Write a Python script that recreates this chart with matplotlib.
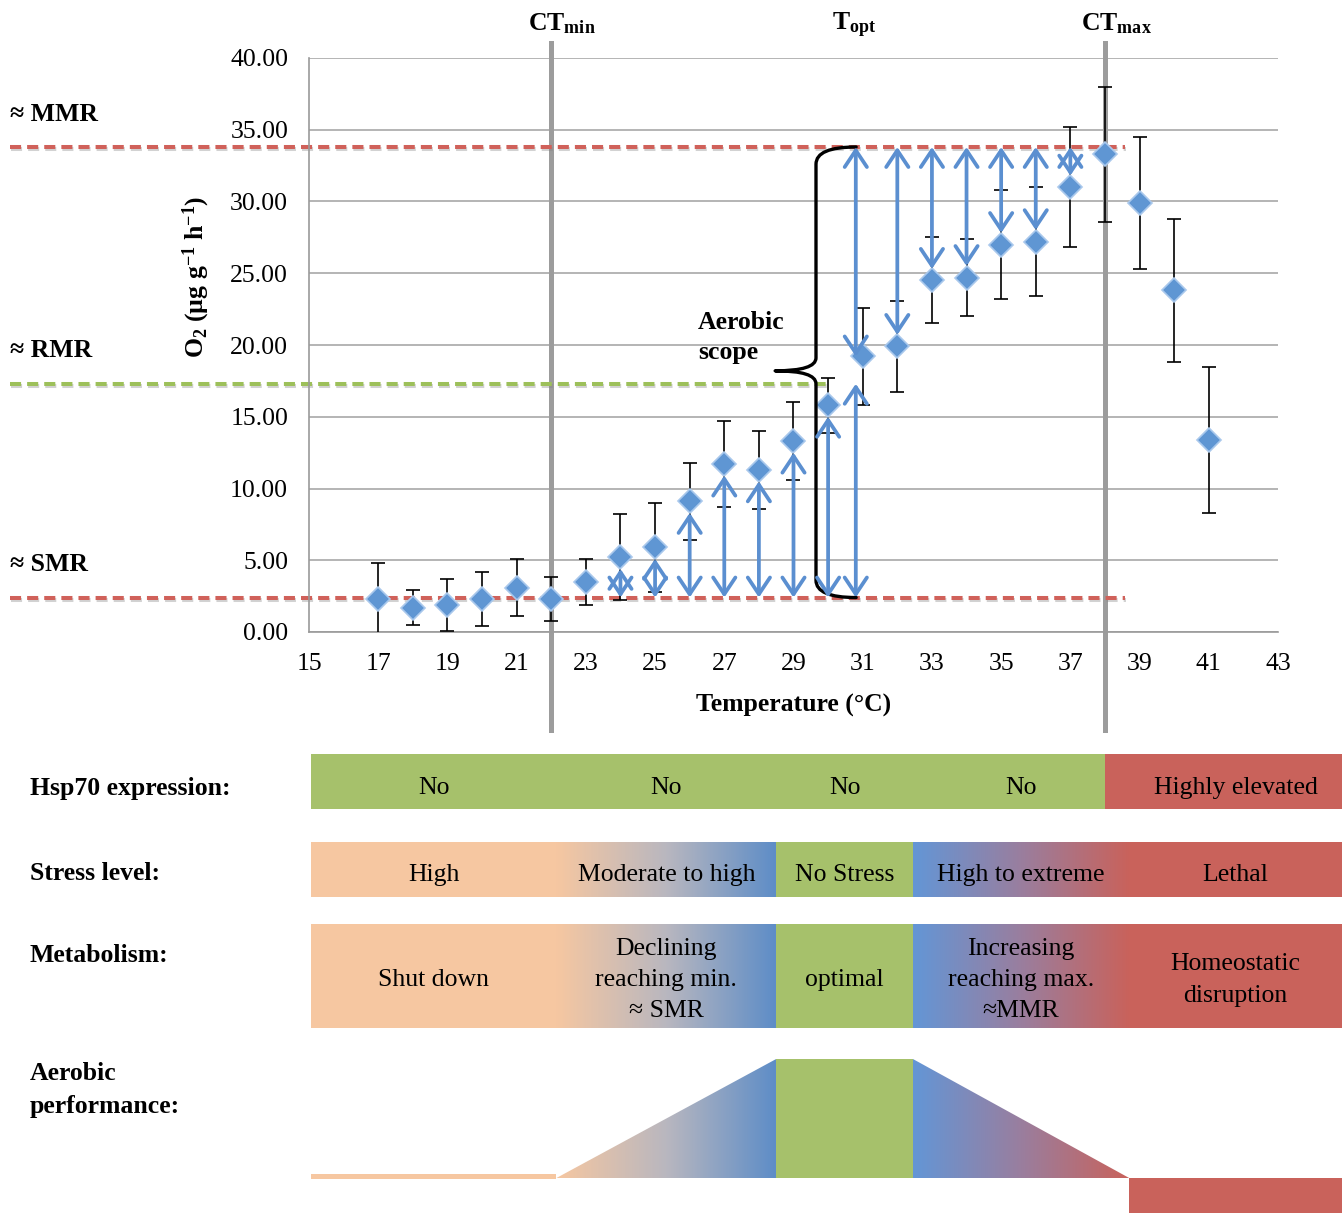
import numpy as np
import matplotlib.pyplot as plt
import matplotlib.patheffects as pe
import matplotlib.transforms as mtransforms
from matplotlib.patches import Rectangle, Polygon, PathPatch
from matplotlib.path import Path
from matplotlib.colors import LinearSegmentedColormap

plt.rcParams['font.family'] = ['Liberation Serif', 'DejaVu Serif']
plt.rcParams['mathtext.fontset'] = 'custom'
plt.rcParams['mathtext.rm'] = 'Liberation Serif'
plt.rcParams['mathtext.bf'] = 'Liberation Serif:bold'
plt.rcParams['mathtext.it'] = 'Liberation Serif:italic'

# mean O2 consumption (ug g-1 h-1) and error per test temperature
temp = np.arange(17, 42)
o2 = [2.3, 1.7, 1.9, 2.3, 3.1, 2.3, 3.5, 5.2, 5.9, 9.1, 11.7, 11.3, 13.3,
      15.8, 19.2, 19.9, 24.5, 24.7, 27.0, 27.2, 31.0, 33.3, 29.9, 23.8, 13.4]
o2_err = [2.5, 1.2, 1.8, 1.9, 2.0, 1.5, 1.6, 3.0, 3.1, 2.7, 3.0, 2.7, 2.7,
          1.9, 3.4, 3.2, 3.0, 2.7, 3.8, 3.8, 4.2, 4.7, 4.6, 5.0, 5.1]

# metabolic levels and critical temperatures
SMR, RMR, MMR = 2.4, 17.3, 33.8
CT_MIN, T_OPT, CT_MAX = 22, 30.8, 38
up_t = [24, 25, 26, 27, 28, 29, 30]      # scope measured up from SMR
down_t = [32, 33, 34, 35, 36, 37]        # scope measured down from MMR

# zones for the lower panel (degC)
zones = [15.05, 22.15, 28.5, 32.45, 38.7, 44.85]
hsp_edges = [15.05, CT_MAX, 44.85]
hsp_text = ['No', 'No', 'No', 'No', 'Highly elevated']
stress_text = ['High', 'Moderate to high', 'No Stress', 'High to extreme', 'Lethal']
metab_text = ['Shut down', 'Declining\nreaching min.\n\u2248 SMR', 'optimal',
              'Increasing\nreaching max.\n\u2248MMR', 'Homeostatic\ndisruption']

PEACH = '#F6C7A1'
GREEN = '#A6C16B'
RED = '#C9625B'
LEFT_GRAD = ['#F6C7A1', '#B9B7BF', '#5E8DC7']
RIGHT_GRAD = ['#6396D6', '#9A7E9E', '#C9625B']
ARROW = '#5B8FD0'
FS = 18.5

W, H = 1344, 1213
fig = plt.figure(figsize=(W / 100, H / 100), dpi=100)
bg = fig.add_axes([0, 0, 1, 1], zorder=-1)
bg.axis('off')
ax = fig.add_axes([309 / W, 1 - 632 / H, 969 / W, 574 / H])
ax.patch.set_alpha(0)

# ---- top chart ----
ax.set_xlim(15, 43)
ax.set_ylim(0, 40)
ax.set_xticks(np.arange(15, 44, 2))
ax.set_yticks(np.arange(0, 41, 5))
ax.set_yticklabels(['%.2f' % v for v in np.arange(0, 41, 5)])
ax.tick_params(length=0, labelsize=FS, pad=15)
ax.yaxis.grid(True, color='#a8a8a8', lw=1.2)
ax.set_axisbelow(True)
for s in ['top', 'right']:
    ax.spines[s].set_visible(False)
for s in ['left', 'bottom']:
    ax.spines[s].set_color('#9a9a9a')
    ax.spines[s].set_linewidth(1.2)

for t in [CT_MIN, CT_MAX]:
    ax.axvline(t, ymin=-0.171, ymax=1.027, color='#9c9c9c', lw=3.6,
               clip_on=False, zorder=1.5)
for t, lab in [(CT_MIN, r'$\mathbf{CT_{min}}$'), (T_OPT, r'$\mathbf{T_{opt}}$'),
               (CT_MAX, r'$\mathbf{CT_{max}}$')]:
    ax.text(t - 0.68, 41.9, lab, fontsize=FS, ha='left', va='baseline', clip_on=False)

shadow = [pe.SimpleLineShadow(offset=(0.6, -1.6), shadow_color='#808080', alpha=0.35),
          pe.Normal()]
for lvl, x1, col in [(MMR, 38.58, '#D0615A'), (RMR, 29.97, '#9DC05A'), (SMR, 38.58, '#D0615A')]:
    ax.plot([6.36, x1], [lvl, lvl], color=col, lw=2.9, ls=(0, (2.75, 1.5)),
            clip_on=False, zorder=2, path_effects=shadow)
for lvl, lab in [(MMR, '\u2248 MMR'), (RMR, '\u2248 RMR'), (SMR, '\u2248 SMR')]:
    ax.annotate(lab, xy=(6.36, lvl), xytext=(0, 19), textcoords='offset points',
                fontsize=FS, fontweight='bold', va='baseline', ha='left',
                annotation_clip=False)

ax.errorbar(temp, o2, yerr=o2_err, fmt='none', ecolor='black', elinewidth=1.2,
            capsize=5, capthick=1.2, zorder=3)
ax.plot(temp, o2, ls='none', marker='D', ms=12, mfc='#5F96D3', mec='#A9C8EC',
        mew=1.2, zorder=4)

ap = dict(arrowstyle='<->,head_length=0.6,head_width=0.4', color=ARROW, lw=2.7,
          shrinkA=0, shrinkB=0, mutation_scale=20)
o2_at = dict(zip(temp, o2))
for t in up_t:
    ax.annotate('', xy=(t, o2_at[t] - 0.8), xytext=(t, SMR), arrowprops=ap, zorder=5)
for t in down_t:
    ax.annotate('', xy=(t, o2_at[t] + 0.8), xytext=(t, MMR), arrowprops=ap, zorder=5)
ax.annotate('', xy=(T_OPT, RMR), xytext=(T_OPT, SMR), arrowprops=ap, zorder=5)
ax.annotate('', xy=(T_OPT, o2_at[31]), xytext=(T_OPT, MMR), arrowprops=ap, zorder=5)

# curly brace spanning SMR to MMR
bx, tip_x, arm_x, tip_y = 29.65, 28.47, 30.81, 18.2
verts = [(arm_x, MMR), (bx, MMR), (bx, MMR - 1.2), (bx, tip_y + 0.9), (bx, tip_y),
         (tip_x, tip_y), (bx, tip_y), (bx, tip_y - 0.9), (bx, SMR + 1.2), (bx, SMR),
         (arm_x, SMR)]
codes = [Path.MOVETO, Path.CURVE3, Path.CURVE3, Path.LINETO, Path.CURVE3, Path.CURVE3,
         Path.CURVE3, Path.CURVE3, Path.LINETO, Path.CURVE3, Path.CURVE3]
ax.add_patch(PathPatch(Path(verts, codes), fill=False, lw=2.4, ec='black', zorder=4.5,
                       capstyle='round', joinstyle='round'))
ax.text(26.24, 20.5, 'Aerobic\nscope', fontsize=FS, fontweight='bold', ha='left',
        va='center', linespacing=1.4)

ax.set_xlabel('Temperature (\u00b0C)', fontsize=FS, fontweight='bold')
ax.xaxis.set_label_coords(0.5, -0.108)
ax.set_ylabel('O$_\\mathbf{2}$ (\u00b5g g$^{\\mathbf{-1}}$ h$^{\\mathbf{-1}}$)',
              fontsize=FS, fontweight='bold')
ax.yaxis.set_label_coords(-0.1, 0.618)

# ---- lower panel: x in degC (shared with chart), y in pixels ----
bg.set_xlim(0, W)
bg.set_ylim(H, 0)
trans = mtransforms.blended_transform_factory(ax.transData, bg.transData)


def block(x0, x1, y0, y1, color):
    bg.add_patch(Rectangle((x0, y0), x1 - x0, y1 - y0, transform=trans,
                           facecolor=color, lw=0))


def gradient(x0, x1, y0, y1, colors, clip=None):
    cmap = LinearSegmentedColormap.from_list('zone', colors)
    im = bg.imshow(np.linspace(0, 1, 256)[None, :], cmap=cmap, aspect='auto',
                   extent=(x0, x1, y1, y0), transform=trans, interpolation='bilinear')
    if clip is not None:
        im.set_clip_path(Polygon(clip, closed=True, transform=trans))


def zone_row(y0, y1):
    block(zones[0], zones[1], y0, y1, PEACH)
    gradient(zones[1], zones[2], y0, y1, LEFT_GRAD)
    block(zones[2], zones[3], y0, y1, GREEN)
    gradient(zones[3], zones[4], y0, y1, RIGHT_GRAD)
    block(zones[4], zones[5], y0, y1, RED)


centres = [(a + b) / 2 for a, b in zip(zones[:-1], zones[1:])]

# Hsp70 row
block(hsp_edges[0], hsp_edges[1], 754, 809, GREEN)
block(hsp_edges[1], hsp_edges[2], 754, 809, RED)
for c, s in zip(centres, hsp_text):
    bg.text(c, 788, s, transform=trans, fontsize=FS, ha='center', va='center')

# stress row
zone_row(842, 897)
for c, s in zip(centres, stress_text):
    bg.text(c, 875, s, transform=trans, fontsize=FS, ha='center', va='center')

# metabolism row
zone_row(924, 1028)
for c, s in zip(centres, metab_text):
    bg.text(c, 980, s, transform=trans, fontsize=FS, ha='center', va='center',
            linespacing=1.55)

# aerobic performance shape
base, top = 1178, 1059
block(zones[0], zones[1], 1174, 1179, PEACH)
gradient(zones[1], zones[2], top, base, LEFT_GRAD,
         clip=[(zones[1], base), (zones[2], top), (zones[2], base)])
block(zones[2], zones[3], top, base, GREEN)
gradient(zones[3], zones[4], top, base, RIGHT_GRAD,
         clip=[(zones[3], top), (zones[4], base), (zones[3], base)])
block(zones[4], zones[5], base, H, RED)

for y, s in [(789, 'Hsp70 expression:'), (873, 'Stress level:'), (955, 'Metabolism:'),
             (1090, 'Aerobic\nperformance:')]:
    bg.text(30, y, s, fontsize=FS, fontweight='bold', ha='left', va='center',
            linespacing=1.5)

bg.set_xlim(0, W)
bg.set_ylim(H, 0)

fig.savefig('out.png', dpi=100)
